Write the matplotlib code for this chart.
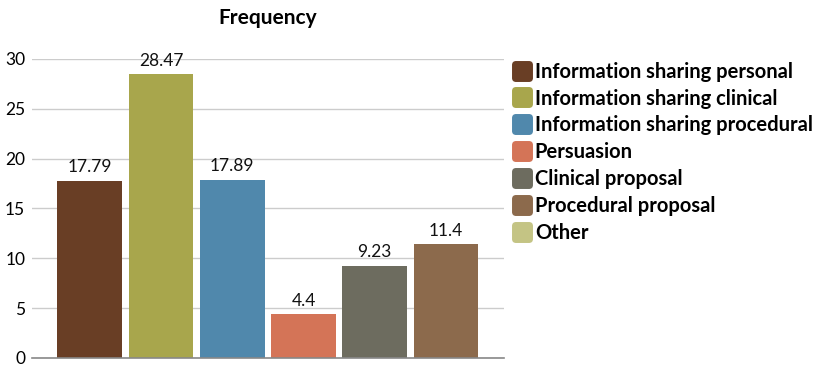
import matplotlib.pyplot as plt
from matplotlib.lines import Line2D
from matplotlib.markers import MarkerStyle

plt.rcParams['font.family'] = ['Lato', 'DejaVu Sans']

# ---- data ----
categories = ["Information sharing personal", "Information sharing clinical",
              "Information sharing procedural", "Persuasion", "Clinical proposal",
              "Procedural proposal", "Other"]
values = [17.79, 28.47, 17.89, 4.4, 9.23, 11.4, None]   # "Other" has no value
colors = ["#693E25", "#A8A64C", "#5088AC", "#D47457", "#6D6C5F", "#8C6A4C", "#C4C484"]
yticks = [0, 5, 10, 15, 20, 25, 30]

fig = plt.figure(figsize=(8.23, 3.66), dpi=100)
ax = fig.add_axes([0.039, 0.022, 0.573, 0.817])

pos = 0
for v, c in zip(values, colors):
    if v is None:
        continue
    ax.bar(pos, v, width=0.91, color=c, zorder=2)
    ax.text(pos, v + 0.55, f"{v:g}", ha='center', va='bottom', fontsize=12.5,
            color='#111111', clip_on=False)
    pos += 1

ax.set_xlim(-0.81, pos - 1 + 0.81)
ax.set_ylim(0, 30)
ax.set_yticks(yticks)
ax.set_yticklabels([str(t) for t in yticks], fontsize=12.5)
ax.set_xticks([])
ax.grid(axis='y', color='#cccccc', linewidth=1, zorder=0)
ax.tick_params(axis='y', length=0, pad=5)
for s in ['top', 'right', 'left']:
    ax.spines[s].set_visible(False)
ax.spines['bottom'].set_color('#888888')
ax.spines['bottom'].set_linewidth(1.2)
ax.spines['bottom'].set_zorder(3)

ax.set_title("Frequency", fontsize=15, fontweight='bold', pad=25)

# legend with rounded square swatches
handles = [Line2D([], [], linestyle='none',
                  marker=MarkerStyle('s', joinstyle='round'), markersize=10,
                  markerfacecolor=c, markeredgecolor=c, markeredgewidth=5)
           for c in colors]
leg = fig.legend(handles, categories, loc='upper left', bbox_to_anchor=(0.607, 0.870),
                 frameon=False, handlelength=0.85, handletextpad=0.2,
                 labelspacing=0.34, borderpad=0.2,
                 prop={'weight': 'bold', 'size': 14.5})

fig.savefig("out.png", dpi=100)
